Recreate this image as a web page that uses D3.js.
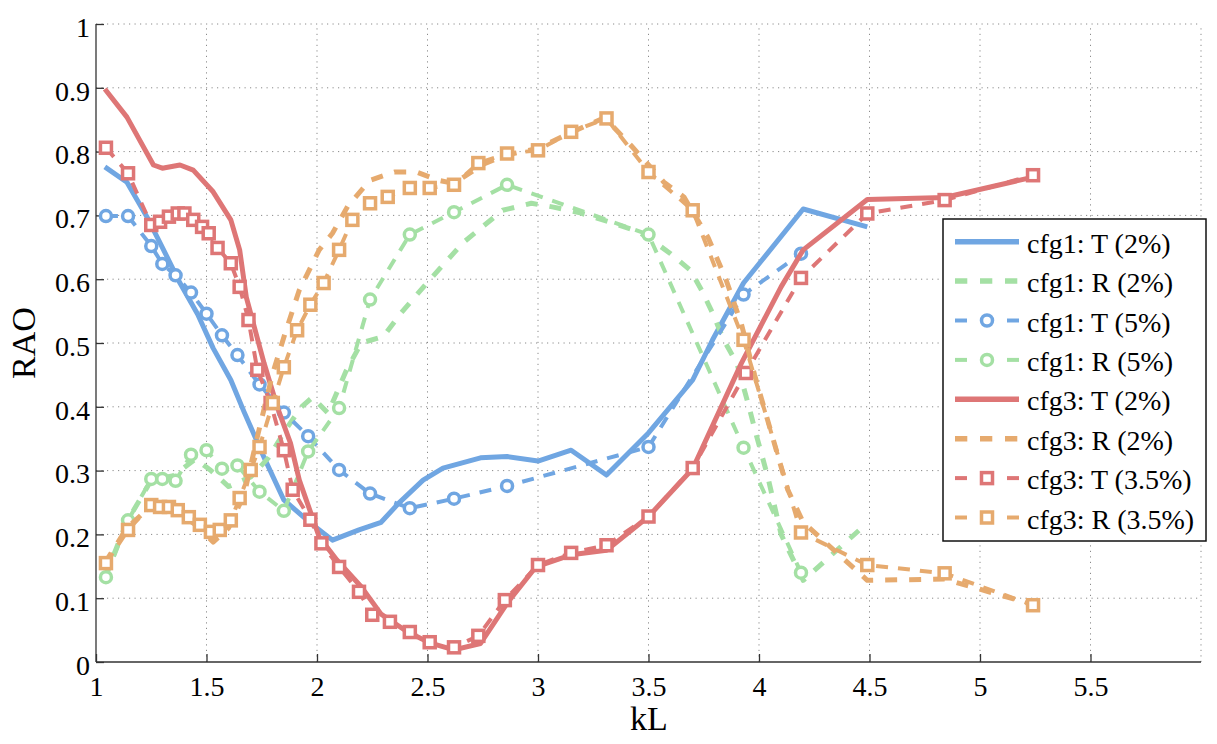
<!DOCTYPE html>
<html>
<head>
<meta charset="utf-8">
<script src="https://cdn.jsdelivr.net/npm/d3@7"></script>
<style>
  html, body { margin: 0; padding: 0; background: #fff; }
</style>
</head>
<body>
<div id="chart"></div>
<script>
// ---- data ----
const xTicks = [1, 1.5, 2, 2.5, 3, 3.5, 4, 4.5, 5, 5.5];
const yTicks = [0, 0.1, 0.2, 0.3, 0.4, 0.5, 0.6, 0.7, 0.8, 0.9, 1];

// cfg1: T (2%)
const c1T2kL = [1.04, 1.14, 1.23, 1.30, 1.38, 1.46, 1.53, 1.61, 1.67, 1.76, 1.85, 1.97, 2.07, 2.19, 2.29, 2.37, 2.48, 2.57, 2.74, 2.86, 3.00, 3.15, 3.31, 3.50, 3.70, 3.79, 3.93, 4.20, 4.49];
const c1T2 = [0.776, 0.752, 0.698, 0.650, 0.594, 0.545, 0.492, 0.442, 0.392, 0.321, 0.254, 0.218, 0.191, 0.207, 0.219, 0.249, 0.285, 0.304, 0.320, 0.322, 0.315, 0.332, 0.293, 0.359, 0.442, 0.505, 0.594, 0.710, 0.682];

// cfg1: R (2%)
const c1R2kL = [1.04, 1.14, 1.25, 1.35, 1.45, 1.52, 1.60, 1.70, 1.78, 1.86, 1.93, 1.98, 2.05, 2.13, 2.20, 2.30, 2.38, 2.50, 2.66, 2.84, 2.97, 3.07, 3.19, 3.34, 3.45, 3.52, 3.60, 3.69, 3.74, 3.79, 3.84, 3.90, 3.95, 3.99, 4.04, 4.10, 4.20, 4.49];
const c1R2 = [0.133, 0.220, 0.285, 0.292, 0.318, 0.300, 0.275, 0.290, 0.320, 0.365, 0.400, 0.415, 0.390, 0.455, 0.500, 0.510, 0.547, 0.595, 0.657, 0.708, 0.719, 0.713, 0.704, 0.688, 0.675, 0.660, 0.640, 0.614, 0.583, 0.547, 0.505, 0.468, 0.406, 0.353, 0.290, 0.200, 0.128, 0.218];

// cfg1 5% runs share the same kL
const c1kL5 = [1.045, 1.145, 1.25, 1.30, 1.36, 1.43, 1.50, 1.57, 1.64, 1.74, 1.85, 1.96, 2.10, 2.24, 2.42, 2.62, 2.86, 3.50, 3.93, 4.19];
const c1T5 = [0.699, 0.699, 0.652, 0.624, 0.606, 0.579, 0.546, 0.512, 0.481, 0.435, 0.391, 0.354, 0.301, 0.264, 0.241, 0.256, 0.276, 0.337, 0.576, 0.640];
const c1R5 = [0.133, 0.222, 0.287, 0.287, 0.284, 0.325, 0.332, 0.303, 0.308, 0.267, 0.237, 0.330, 0.398, 0.568, 0.670, 0.705, 0.748, 0.670, 0.336, 0.140];

// cfg3: T (2%)
const c3T2kL = [1.04, 1.14, 1.26, 1.30, 1.38, 1.44, 1.53, 1.61, 1.65, 1.68, 1.76, 1.82, 1.88, 1.92, 2.01, 2.09, 2.20, 2.29, 2.41, 2.51, 2.62, 2.74, 2.86, 2.99, 3.15, 3.31, 3.50, 3.70, 3.92, 4.10, 4.20, 4.49, 4.84, 5.24];
const c3T2 = [0.898, 0.854, 0.779, 0.774, 0.779, 0.771, 0.737, 0.693, 0.646, 0.572, 0.469, 0.400, 0.343, 0.285, 0.196, 0.160, 0.118, 0.075, 0.047, 0.030, 0.019, 0.029, 0.092, 0.149, 0.168, 0.175, 0.228, 0.303, 0.468, 0.588, 0.646, 0.725, 0.728, 0.760];

// cfg3: R (2%)
const c3R2kL = [1.04, 1.14, 1.25, 1.35, 1.45, 1.53, 1.60, 1.67, 1.73, 1.80, 1.86, 1.92, 2.01, 2.07, 2.14, 2.24, 2.35, 2.45, 2.55, 2.62, 2.75, 2.86, 3.00, 3.15, 3.30, 3.34, 3.42, 3.57, 3.66, 3.77, 3.85, 3.92, 3.98, 4.03, 4.08, 4.13, 4.20, 4.49, 4.84, 5.24];
const c3R2 = [0.155, 0.210, 0.245, 0.242, 0.215, 0.188, 0.210, 0.262, 0.353, 0.453, 0.520, 0.583, 0.646, 0.672, 0.715, 0.755, 0.768, 0.768, 0.755, 0.750, 0.780, 0.795, 0.805, 0.830, 0.853, 0.839, 0.810, 0.752, 0.729, 0.665, 0.600, 0.530, 0.450, 0.390, 0.330, 0.270, 0.219, 0.128, 0.130, 0.090];

// cfg3: T (3.5%)
const c3T35kL = [1.045, 1.145, 1.25, 1.29, 1.33, 1.37, 1.40, 1.44, 1.48, 1.51, 1.55, 1.61, 1.65, 1.69, 1.73, 1.79, 1.85, 1.89, 1.97, 2.02, 2.10, 2.19, 2.25, 2.33, 2.42, 2.51, 2.62, 2.73, 2.85, 3.00, 3.15, 3.31, 3.50, 3.70, 3.94, 4.19, 4.49, 4.84, 5.24];
const c3T35 = [0.806, 0.766, 0.685, 0.690, 0.698, 0.703, 0.703, 0.693, 0.682, 0.672, 0.649, 0.625, 0.588, 0.536, 0.458, 0.406, 0.332, 0.270, 0.223, 0.186, 0.149, 0.110, 0.074, 0.063, 0.047, 0.031, 0.023, 0.041, 0.097, 0.152, 0.171, 0.183, 0.228, 0.304, 0.453, 0.602, 0.703, 0.724, 0.763];

// cfg3: R (3.5%)
const c3R35kL = [1.045, 1.145, 1.25, 1.29, 1.33, 1.37, 1.42, 1.47, 1.52, 1.56, 1.61, 1.65, 1.70, 1.74, 1.80, 1.85, 1.91, 1.97, 2.03, 2.10, 2.16, 2.24, 2.32, 2.42, 2.51, 2.62, 2.73, 2.86, 3.00, 3.15, 3.31, 3.50, 3.70, 3.93, 4.19, 4.49, 4.84, 5.24];
const c3R35 = [0.155, 0.207, 0.246, 0.243, 0.243, 0.238, 0.227, 0.215, 0.204, 0.207, 0.222, 0.257, 0.301, 0.337, 0.406, 0.462, 0.520, 0.560, 0.594, 0.646, 0.693, 0.719, 0.729, 0.743, 0.743, 0.748, 0.782, 0.797, 0.802, 0.831, 0.852, 0.768, 0.708, 0.505, 0.203, 0.152, 0.139, 0.089];

const blue = '#70a6e2', green = '#a4e0a4', red = '#de7676', orange = '#e6aa6e';
const serifFont = "'Liberation Serif', 'Times New Roman', Times, 'Nimbus Roman', 'Noto Serif', 'DejaVu Serif', serif";

// 绘图顺序 = 图例顺序
const series = [
    {name: 'cfg1: T (2%)', kL: c1T2kL, v: c1T2, color: blue, dash: null, marker: null},
    {name: 'cfg1: R (2%)', kL: c1R2kL, v: c1R2, color: green, dash: '12,12', marker: null},
    {name: 'cfg1: T (5%)', kL: c1kL5, v: c1T5, color: blue, dash: '12,10', marker: 'circle'},
    {name: 'cfg1: R (5%)', kL: c1kL5, v: c1R5, color: green, dash: '12,10', marker: 'circle'},
    {name: 'cfg3: T (2%)', kL: c3T2kL, v: c3T2, color: red, dash: null, marker: null},
    {name: 'cfg3: R (2%)', kL: c3R2kL, v: c3R2, color: orange, dash: '12,12', marker: null},
    {name: 'cfg3: T (3.5%)', kL: c3T35kL, v: c3T35, color: red, dash: '12,10', marker: 'square'},
    {name: 'cfg3: R (3.5%)', kL: c3R35kL, v: c3R35, color: orange, dash: '12,10', marker: 'square'}
];

const width = 1217, height = 744;
const x = d3.scaleLinear().domain([1, 6]).range([96, 1201]);
const y = d3.scaleLinear().domain([0, 1]).range([662, 24]);

const svg = d3.select('#chart').append('svg')
    .attr('width', width)
    .attr('height', height)
    .style('display', 'block');

// 网格（点线）
const grid = svg.append('g').attr('stroke', '#8a8a8a').attr('stroke-width', 1).attr('stroke-dasharray', '1.2,4.3');
grid.selectAll('.gx').data(xTicks.slice(1).concat([6])).join('line')
    .attr('x1', d => x(d)).attr('x2', d => x(d))
    .attr('y1', y(0)).attr('y2', y(1));
grid.selectAll('.gy').data(yTicks.slice(1)).join('line')
    .attr('y1', d => y(d)).attr('y2', d => y(d))
    .attr('x1', x(1)).attr('x2', x(6));

// axes, ticks pointing inward
const xAxis = svg.append('g')
    .attr('transform', `translate(0,${y(0)})`)
    .call(d3.axisBottom(x).tickValues(xTicks).tickFormat(d3.format('')).tickSizeInner(-8).tickSizeOuter(0).tickPadding(14));
const yAxis = svg.append('g')
    .attr('transform', `translate(${x(1)},0)`)
    .call(d3.axisLeft(y).tickValues(yTicks).tickFormat(d3.format('')).tickSizeInner(-8).tickSizeOuter(0).tickPadding(6));

[xAxis, yAxis].forEach(g => {
    g.attr('font-family', null).attr('font-size', null);
    g.select('.domain').attr('stroke', '#333').attr('stroke-width', 1.3);
    g.selectAll('.tick line').attr('stroke', '#333').attr('stroke-width', 1.3);
    g.selectAll('.tick text')
        .attr('fill', '#000')
        .style('font-family', serifFont)
        .style('font-size', '28px');
});
yAxis.selectAll('.tick text').attr('dy', '0.44em');
// x 轴在 6 处没有刻度, 但 domain 画到 6
xAxis.select('.domain').attr('d', `M${x(1)},0H${x(6)}`);
yAxis.select('.domain').attr('d', `M0,${y(0)}V${y(1)}`);

svg.append('text')
    .attr('x', 649).attr('y', 730)
    .attr('text-anchor', 'middle')
    .style('font-family', serifFont)
    .style('font-size', '34px')
    .text('kL');

svg.append('text')
    .attr('transform', `translate(35,${(y(0) + y(1)) / 2}) rotate(-90)`)
    .attr('text-anchor', 'middle')
    .style('font-family', serifFont)
    .style('font-size', '34px')
    .text('RAO');

// curves
const line = d3.line().x(d => x(d[0])).y(d => y(d[1]));

const drawMarker = (g, type, cx, cy, color) => {
    if (type === 'circle') {
        g.append('circle')
            .attr('cx', cx).attr('cy', cy).attr('r', 5.5)
            .attr('fill', '#fff').attr('stroke', color).attr('stroke-width', 3.5);
    } else if (type === 'square') {
        g.append('rect')
            .attr('x', cx - 5.5).attr('y', cy - 5.5)
            .attr('width', 11).attr('height', 11)
            .attr('fill', '#fff').attr('stroke', color).attr('stroke-width', 3.5);
    }
};

series.forEach(s => {
    const pts = s.kL.map((k, i) => [k, s.v[i]]);
    const g = svg.append('g');
    g.append('path')
        .attr('d', line(pts))
        .attr('fill', 'none')
        .attr('stroke', s.color)
        .attr('stroke-width', s.marker ? 4 : 5)
        .attr('stroke-linejoin', 'round')
        .attr('stroke-dasharray', s.dash);
    if (s.marker) {
        pts.forEach(p => drawMarker(g, s.marker, x(p[0]), y(p[1]), s.color));
    }
});

// 图例
const lg = svg.append('g').attr('transform', 'translate(943,219)');
lg.append('rect')
    .attr('width', 263).attr('height', 322)
    .attr('fill', '#fff').attr('stroke', '#111').attr('stroke-width', 1.5);

series.forEach((s, i) => {
    const cy = 22.7 + i * 39.4;
    const row = lg.append('g');
    if (s.marker) {
        row.append('line').attr('x1', 12).attr('x2', 24).attr('y1', cy).attr('y2', cy)
            .attr('stroke', s.color).attr('stroke-width', 4);
        row.append('line').attr('x1', 64).attr('x2', 76).attr('y1', cy).attr('y2', cy)
            .attr('stroke', s.color).attr('stroke-width', 4);
        drawMarker(row, s.marker, 44, cy, s.color);
    } else {
        row.append('line').attr('x1', 12).attr('x2', 76).attr('y1', cy).attr('y2', cy)
            .attr('stroke', s.color).attr('stroke-width', 5.5)
            .attr('stroke-dasharray', s.dash ? '12.3,12.7' : null);
    }
    row.append('text')
        .attr('x', 84).attr('y', cy + 11)
        .style('font-family', serifFont)
        .style('font-size', '28px')
        .text(s.name);
});
</script>
</body>
</html>
